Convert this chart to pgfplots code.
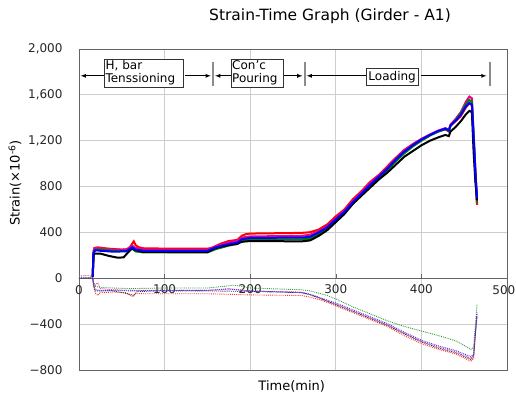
\documentclass[border=0pt]{standalone}
\usepackage{pgfplots}
\pgfplotsset{compat=1.18}
\usepackage{fontspec}
\setmainfont{DejaVu Sans}
\definecolor{gridgray}{RGB}{205,205,205}
\definecolor{framegray}{RGB}{100,100,100}
\definecolor{dgreen}{RGB}{0,128,0}
\definecolor{barGray}{RGB}{140,140,140}
\begin{document}
\begin{tikzpicture}
\useasboundingbox (0,0) rectangle (516bp,396bp);
\begin{axis}[
  at={(79bp,26bp)}, anchor=south west,
  scale only axis, width=428bp, height=321bp,
  xmin=0, xmax=500, ymin=-800, ymax=2000,
  xtick={100,200,300,400},
  xticklabels={100,200,300,400},
  ytick={-800,-400,0,400,800,1200,1600,2000},
  yticklabels={−800,−400,0,400,800,{1,200},{1,600},{2,000}},
  axis x line*=middle, axis y line*=left,
  x axis line style={draw=framegray, line width=0.8bp},
  y axis line style={draw=framegray, line width=0.8bp},
  grid=major,
  major grid style={draw=gridgray, line width=0.8bp},
  y tick style={draw=none},
  x tick style={draw=framegray, line width=0.6bp},
  tick align=inside, major tick length=4bp,
  ticklabel style={font=\fontsize{12bp}{14bp}\selectfont, text=black!85},
  yticklabel style={xshift=-13bp},
  xticklabel style={yshift=-3bp},
  clip=false,
]
\draw[framegray, line width=0.8bp] (rel axis cs:0,0) rectangle (rel axis cs:1,1);
% dotted (compression) gauges
\addplot[red!80!white, densely dotted, line width=0.9bp] coordinates {
(0,5)(10,0)(16,-5)(17,-60)(19,-130)(22,-150)(25,-120)(30,-125)(40,-120)(55,-125)(60,-150)(63,-160)(66,-130)(75,-135)(150,-135)(175,-140)(200,-145)(260,-150)(270,-165)(280,-185)(290,-210)(300,-240)(320,-300)(340,-360)(360,-420)(380,-500)(400,-570)(420,-620)(440,-660)(458,-725)(461,-700)(463,-500)(465,-300)};
\addplot[dgreen!80!white, densely dotted, line width=0.9bp] coordinates {
(0,10)(16,5)(17,-40)(19,-70)(25,-80)(40,-85)(60,-90)(100,-85)(150,-85)(170,-70)(180,-60)(190,-70)(200,-85)(260,-100)(270,-110)(280,-130)(290,-150)(300,-180)(320,-250)(340,-310)(360,-370)(380,-420)(400,-460)(420,-500)(440,-545)(458,-620)(461,-600)(463,-420)(465,-225)};
\addplot[magenta!80!white, densely dotted, line width=0.9bp] coordinates {
(0,20)(10,25)(16,15)(17,-40)(19,-60)(22,-40)(25,-90)(40,-100)(60,-105)(100,-105)(150,-105)(175,-90)(200,-110)(260,-120)(270,-140)(280,-170)(290,-200)(300,-225)(320,-285)(340,-345)(360,-405)(380,-480)(400,-550)(420,-600)(440,-640)(458,-700)(461,-670)(463,-480)(465,-330)};
\addplot[black!80!white, densely dotted, line width=0.9bp] coordinates {
(0,0)(16,0)(17,-70)(19,-110)(25,-110)(40,-110)(60,-140)(64,-150)(68,-115)(100,-110)(150,-110)(200,-115)(260,-125)(270,-145)(280,-170)(290,-200)(300,-230)(320,-290)(340,-350)(360,-410)(380,-485)(400,-555)(420,-610)(440,-650)(458,-710)(461,-680)(463,-490)(465,-330)};
\addplot[blue!80!white, densely dotted, line width=0.9bp] coordinates {
(0,0)(16,5)(17,-50)(19,-100)(25,-105)(40,-105)(60,-110)(100,-105)(150,-105)(175,-95)(200,-110)(260,-125)(270,-140)(280,-165)(290,-190)(300,-215)(320,-275)(340,-335)(360,-395)(380,-470)(400,-540)(420,-590)(440,-630)(458,-685)(461,-660)(463,-480)(465,-300)};
% solid (tension) gauges
\addplot[red, line width=2bp] coordinates {
(16,20)(17,230)(18,265)(22,270)(30,262)(40,255)(50,250)(58,255)(62,300)(64,322)(66,290)(70,270)(75,262)(90,260)(120,258)(150,258)(155,265)(165,300)(175,325)(185,335)(190,370)(195,385)(200,390)(230,393)(260,396)(270,402)(280,425)(290,470)(300,540)(310,600)(320,690)(330,760)(340,840)(350,900)(360,975)(370,1050)(380,1120)(390,1170)(400,1215)(410,1250)(420,1285)(428,1300)(432,1280)(434,1330)(440,1370)(446,1415)(452,1490)(456,1525)(459,1510)(461,1200)(463,900)(465,640)};
\addplot[magenta, line width=2bp] coordinates {
(16,25)(17,240)(18,262)(25,262)(40,250)(55,250)(62,285)(66,265)(75,250)(150,250)(160,280)(175,315)(185,325)(190,355)(200,365)(260,370)(270,380)(280,410)(290,455)(300,525)(310,590)(320,675)(330,750)(340,830)(350,895)(360,965)(370,1045)(380,1115)(390,1170)(400,1215)(410,1255)(420,1290)(428,1310)(432,1295)(434,1340)(440,1390)(446,1450)(452,1540)(456,1585)(459,1570)(461,1260)(463,950)(465,650)};
\addplot[dgreen, line width=2bp] coordinates {
(16,15)(17,215)(19,250)(25,250)(40,240)(55,240)(62,260)(66,235)(75,225)(150,225)(160,255)(175,285)(185,300)(190,330)(200,340)(260,340)(270,345)(280,385)(290,430)(300,500)(310,570)(320,650)(330,730)(340,800)(350,870)(360,940)(370,1020)(380,1090)(390,1150)(400,1200)(410,1245)(420,1280)(428,1300)(432,1285)(434,1330)(440,1380)(446,1440)(452,1520)(456,1555)(459,1540)(461,1250)(463,950)(465,660)};
\addplot[black, line width=2bp] coordinates {
(16,10)(17,200)(18,215)(25,215)(35,195)(45,180)(52,182)(56,215)(62,260)(66,245)(75,230)(150,228)(160,265)(175,290)(185,300)(190,318)(200,325)(260,322)(270,330)(280,370)(290,420)(300,490)(310,560)(320,650)(330,720)(340,790)(350,860)(360,920)(370,990)(380,1060)(390,1110)(400,1160)(410,1200)(420,1230)(428,1250)(432,1240)(434,1280)(440,1320)(446,1370)(452,1430)(456,1460)(459,1450)(461,1100)(463,850)(465,680)};
\addplot[blue, line width=2bp] coordinates {
(16,15)(17,225)(19,245)(25,240)(40,232)(55,235)(62,270)(66,250)(75,240)(150,240)(160,270)(175,300)(185,310)(190,340)(200,352)(260,355)(270,362)(280,400)(290,445)(300,515)(310,580)(320,665)(330,740)(340,815)(350,885)(360,955)(370,1035)(380,1105)(390,1160)(400,1210)(410,1250)(420,1285)(428,1305)(432,1290)(434,1335)(440,1375)(446,1425)(452,1500)(456,1530)(459,1515)(461,1230)(463,930)(465,700)};
% x tick labels at the ends
\node[font=\fontsize{12bp}{14bp}\selectfont, text=black!85, anchor=north, inner sep=0pt] at ([yshift=-7bp]axis cs:0,0) {0};
\node[font=\fontsize{12bp}{14bp}\selectfont, text=black!85, anchor=north east, inner sep=0pt] at ([yshift=-7bp, xshift=8.5bp]axis cs:500,0) {500};
% phase annotations
\begin{scope}[font=\fontsize{12bp}{13bp}\selectfont]
\node[draw=black!80, fill=white, align=left, inner sep=1.5bp, anchor=west, text width=76bp] (hb) at (axis cs:29,1790) {H, bar\\Tenssioning};
\node[draw=black!80, fill=white, align=left, inner sep=1.5bp, anchor=west, text width=49bp] (cp) at (axis cs:177,1790) {Con'c\\Pouring};
\node[draw=black!80, fill=white, align=left, inner sep=2.5bp, anchor=west] (ld) at (axis cs:335,1757) {Loading};
\end{scope}
\draw[-latex, line width=0.8bp] (axis cs:29,1766) -- (axis cs:2,1766);
\draw[-latex, line width=0.8bp] (axis cs:124,1766) -- (axis cs:154,1766);
\draw[-latex, line width=0.8bp] (axis cs:177,1766) -- (axis cs:159,1766);
\draw[-latex, line width=0.8bp] (axis cs:239,1766) -- (axis cs:261,1766);
\draw[-latex, line width=0.8bp] (axis cs:335,1766) -- (axis cs:266,1766);
\draw[-latex, line width=0.8bp] (axis cs:400,1766) -- (axis cs:476,1766);
\draw[barGray, line width=2bp] (axis cs:156.5,1680) -- (axis cs:156.5,1890);
\draw[barGray, line width=2bp] (axis cs:263.7,1680) -- (axis cs:263.7,1890);
\draw[barGray, line width=2bp] (axis cs:479.6,1680) -- (axis cs:479.6,1890);
\end{axis}
\node[font=\fontsize{15.5bp}{17bp}\selectfont] at (330bp,380bp) {Strain-Time Graph (Girder - A1)};
\node[font=\fontsize{13bp}{15bp}\selectfont, rotate=90] at (15bp,213bp) {Strain(\texttimes10\textsuperscript{-6})};
\node[font=\fontsize{13bp}{15bp}\selectfont] at (291.7bp,10bp) {Time(min)};
\end{tikzpicture}
\end{document}
